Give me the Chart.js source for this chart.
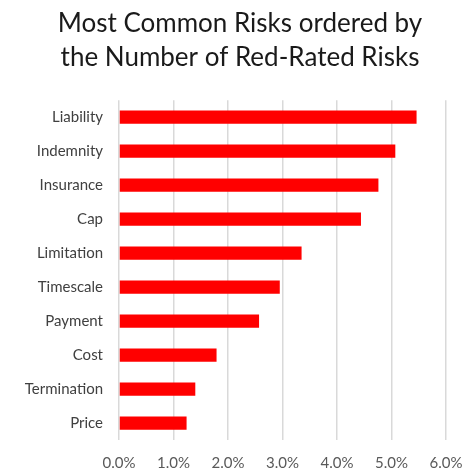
<!DOCTYPE html>
<html>
<head>
<meta charset="utf-8">
<script src="https://cdn.jsdelivr.net/npm/chart.js@4"></script>
<style>
  html, body { margin: 0; padding: 0; background: #fff; }
  #wrap { width: 466px; height: 473px; }
</style>
</head>
<body>
<div id="wrap"><canvas id="chart-risks"></canvas></div>
<script>
// categorias y porcentajes
const riesgos = ['Liability', 'Indemnity', 'Insurance', 'Cap', 'Limitation', 'Timescale', 'Payment', 'Cost', 'Termination', 'Price']
const porcentajes = [5.46, 5.07, 4.76, 4.44, 3.35, 2.95, 2.57, 1.79, 1.40, 1.24]
const titulo = ['Most Common Risks ordered by', 'the Number of Red-Rated Risks']

let chart
window.addEventListener('load', () => {
  chart = new Chart(document.getElementById('chart-risks'), {
    type: 'bar',
    data: {
      labels: riesgos,
      datasets: [{
        data: porcentajes,
        backgroundColor: '#ff0000',
        borderWidth: 0,
        barPercentage: 0.39,
        categoryPercentage: 1
      }]
    },
    options: {
      indexAxis: 'y',
      responsive: true,
      maintainAspectRatio: false,
      animation: false,
      layout: { padding: { left: 14, right: 0, top: 6, bottom: 0 } },
      plugins: {
        legend: { display: false },
        tooltip: { enabled: false },
        title: {
          display: true,
          text: titulo,
          color: '#1a1a1a',
          font: { family: 'Lato', size: 26, weight: 'normal', lineHeight: 1.33 },
          padding: { top: 0, bottom: 25 }
        }
      },
      scales: {
        x: {
          min: 0,
          max: 6,
          ticks: {
            stepSize: 1,
            color: '#595959',
            font: { family: 'Lato', size: 15 },
            padding: 14,
            callback: (v) => v.toFixed(1) + '%'
          },
          grid: { color: '#d9d9d9', lineWidth: 1.5, drawTicks: false },
          border: { display: false },
          afterFit: (scale) => {
            scale.height = 33
            scale.paddingRight = 20
          }
        },
        y: {
          ticks: {
            color: '#404040',
            font: { family: 'Lato', size: 15 },
            padding: 8
          },
          grid: { display: false },
          border: { display: false },
          afterFit: (scale) => { scale.width = 105 }
        }
      }
    }
  })
})
</script>
</body>
</html>
